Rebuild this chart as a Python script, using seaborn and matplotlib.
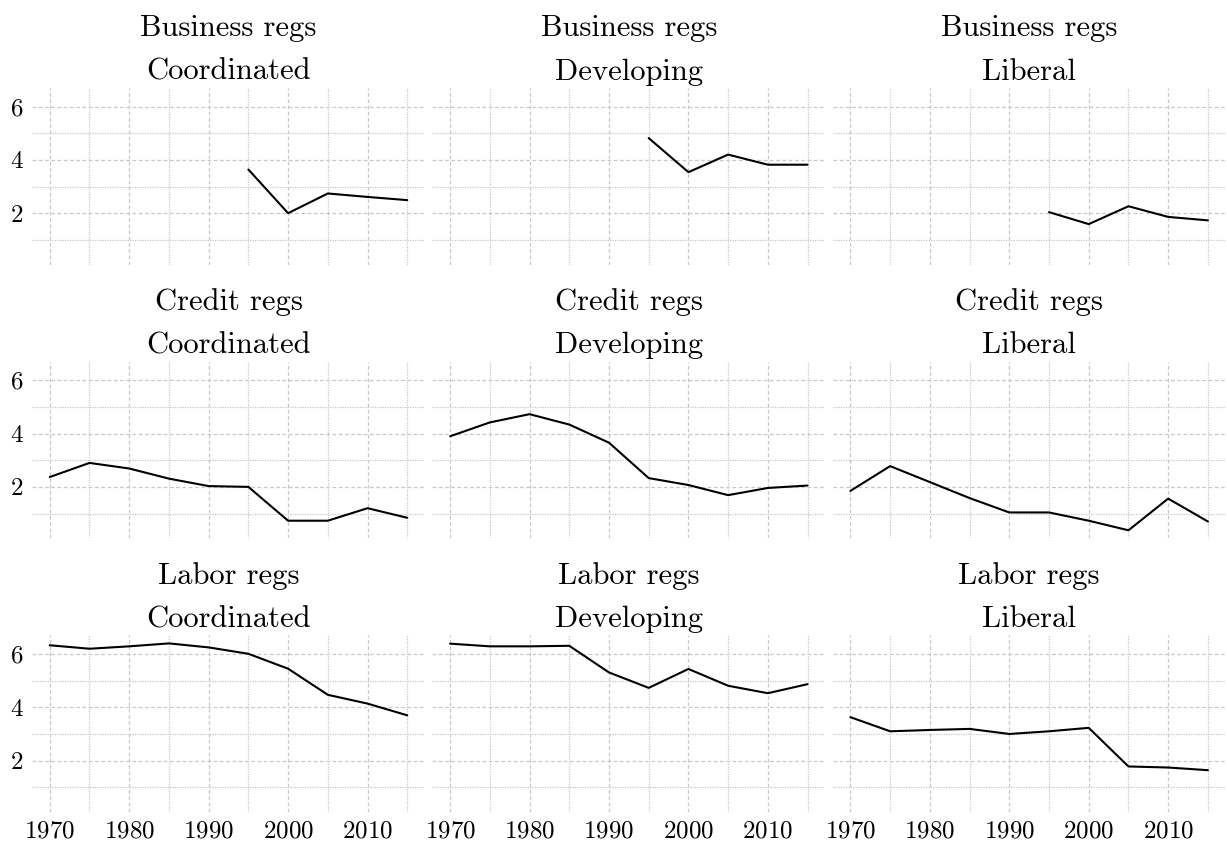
# Regulation indices by regime type, faceted small multiples

import pandas as pd
import numpy as np
import matplotlib
matplotlib.use("Agg")
import matplotlib.pyplot as plt
from matplotlib.ticker import MultipleLocator
import seaborn as sns

# --- Dados ---
years_all = [1970, 1975, 1980, 1985, 1990, 1995, 2000, 2005, 2010, 2015]
years_business = [1995, 2000, 2005, 2010, 2015]

business_coordinated = [3.64, 2.00, 2.74, 2.61, 2.49]
business_developing = [4.82, 3.54, 4.20, 3.82, 3.82]
business_liberal = [2.04, 1.59, 2.26, 1.86, 1.73]

credit_coordinated = [2.37, 2.90, 2.69, 2.31, 2.03, 2.00, 0.73, 0.73, 1.20, 0.84]
credit_developing = [3.90, 4.42, 4.73, 4.34, 3.66, 2.33, 2.07, 1.69, 1.96, 2.05]
credit_liberal = [1.85, 2.78, 2.18, 1.58, 1.04, 1.04, 0.73, 0.37, 1.56, 0.70]

labor_coordinated = [6.33, 6.20, 6.29, 6.40, 6.25, 6.01, 5.45, 4.47, 4.14, 3.70]
labor_developing = [6.39, 6.29, 6.29, 6.31, 5.31, 4.73, 5.44, 4.81, 4.53, 4.87]
labor_liberal = [3.63, 3.10, 3.15, 3.19, 3.00, 3.10, 3.23, 1.78, 1.74, 1.64]

reg_order = ["Business regs", "Credit regs", "Labor regs"]
type_order = ["Coordinated", "Developing", "Liberal"]

# --- Montar DataFrame longo ---
series = [
    ("Business regs", "Coordinated", years_business, business_coordinated),
    ("Business regs", "Developing", years_business, business_developing),
    ("Business regs", "Liberal", years_business, business_liberal),
    ("Credit regs", "Coordinated", years_all, credit_coordinated),
    ("Credit regs", "Developing", years_all, credit_developing),
    ("Credit regs", "Liberal", years_all, credit_liberal),
    ("Labor regs", "Coordinated", years_all, labor_coordinated),
    ("Labor regs", "Developing", years_all, labor_developing),
    ("Labor regs", "Liberal", years_all, labor_liberal),
]
rows = []
for reg, tipo, anos, vals in series:
    for a, v in zip(anos, vals):
        rows.append({"reg": reg, "type": tipo, "year": a, "value": v})
df = pd.DataFrame(rows)

# --- Estilo ---
sns.set_theme(style="white")
plt.rcParams["font.family"] = ["cmr10", "DejaVu Serif"]
plt.rcParams["axes.formatter.use_mathtext"] = True
plt.rcParams["mathtext.fontset"] = "cm"
plt.rcParams["text.color"] = "black"
plt.rcParams["xtick.color"] = "black"
plt.rcParams["ytick.color"] = "black"

g = sns.relplot(
    data=df, x="year", y="value",
    row="reg", col="type",
    row_order=reg_order, col_order=type_order,
    kind="line", color="black", linewidth=1.5,
    height=2.0, aspect=2.0,
    facet_kws={"sharex": True, "sharey": True, "despine": False},
)
g.set_titles("{row_name}\n{col_name}", size=22, linespacing=1.75, color="black")
g.set_axis_labels("", "")
g.figure.set_size_inches(12.27, 8.46)

for ax in g.axes.flat:
    for s in ax.spines.values():
        s.set_visible(False)
    ax.yaxis.set_major_locator(MultipleLocator(2))
    ax.yaxis.set_minor_locator(MultipleLocator(1))
    ax.xaxis.set_major_locator(MultipleLocator(10))
    ax.xaxis.set_minor_locator(MultipleLocator(5))
    ax.grid(which="major", linestyle=(0, (3, 2)), color="#c8c8c8", linewidth=0.9)
    ax.grid(which="minor", linestyle=(0, (1, 1)), color="#c8c8c8", linewidth=0.9)
    ax.tick_params(which="both", length=0, labelsize=18, pad=6, colors="black")
    ax.set_xlim(1967.75, 2017.25)
    ax.set_ylim(0.07, 6.7)

g.figure.subplots_adjust(left=0.026, right=0.999, top=1 - 88 / 846,
                         bottom=1 - 812 / 846, wspace=0.018, hspace=0.55)
g.figure.savefig("out.png", dpi=100)
